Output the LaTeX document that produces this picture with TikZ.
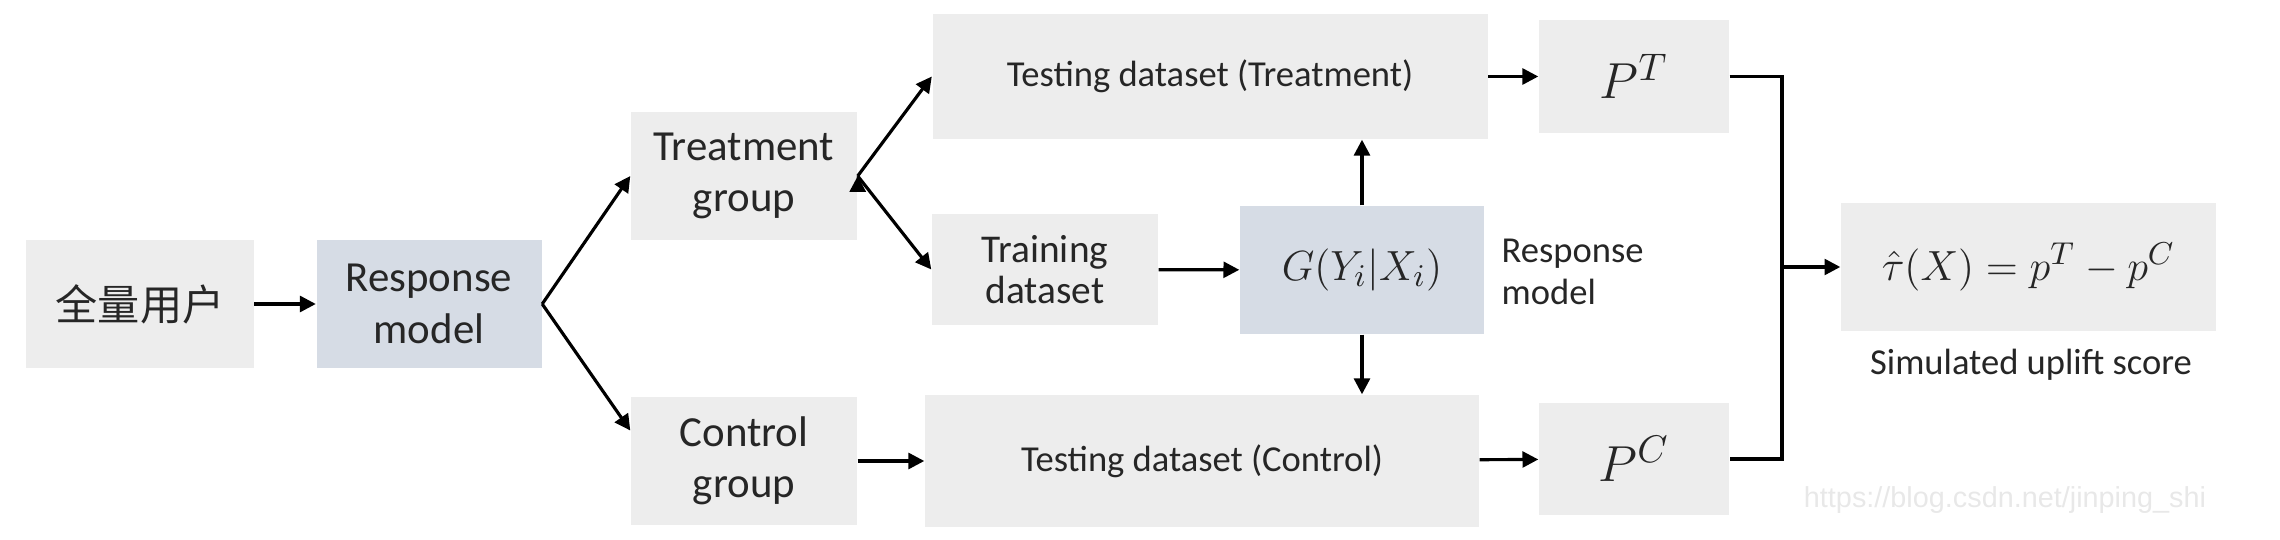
\documentclass[tikz,border=0pt]{standalone}
\usepackage{amsmath}
\usepackage{fontspec}
\setmainfont{Carlito}
\newfontfamily\cjk{Noto Sans CJK SC}
\newfontfamily\markfont{Liberation Sans}
\usetikzlibrary{arrows.meta}
\definecolor{boxgray}{HTML}{EDEDED}
\definecolor{boxblue}{HTML}{D6DCE5}
\definecolor{inkgray}{HTML}{262626}

\begin{document}
\begin{tikzpicture}[
		box/.style={fill=boxgray,inner sep=0pt,align=center,text=inkgray},
		modelbox/.style={box,fill=boxblue},
		bigtext/.style={font=\fontsize{12.2}{14.6}\selectfont},
		midtext/.style={font=\fontsize{11.2}{11.6}\selectfont},
		smalltext/.style={font=\fontsize{10.4}{11.8}\selectfont},
		mathtext/.style={font=\fontsize{12.6}{14}\selectfont},
		ptext/.style={font=\fontsize{15}{16}\selectfont},
	]
		\useasboundingbox (0,0) rectangle (22.8,5.4);
		%
		\node[box,font=\cjk\fontsize{12}{14}\selectfont,minimum width=2.27cm,minimum height=1.28cm] (U) at (1.40,2.36) {全量用户};
		\node[modelbox,bigtext,minimum width=2.25cm,minimum height=1.28cm] (RM) at (4.29,2.36) {Response\\model};
		\node[box,bigtext,minimum width=2.26cm,minimum height=1.28cm] (TG) at (7.44,3.64) {Treatment\\group};
		\node[box,bigtext,minimum width=2.26cm,minimum height=1.28cm] (CG) at (7.44,0.79) {Control\\group};
		\node[box,smalltext,minimum width=5.55cm,minimum height=1.25cm] (TT) at (12.10,4.635) {Testing dataset (Treatment)};
		\node[box,midtext,minimum width=2.26cm,minimum height=1.11cm] (TR) at (10.45,2.705) {Training\\dataset};
		\node[modelbox,font=\fontsize{12.4}{13}\selectfont,minimum width=2.44cm,minimum height=1.28cm] (G) at (13.62,2.70) {$G(Y_i|X_i)$};
		\node[box,smalltext,minimum width=5.54cm,minimum height=1.32cm] (TC) at (12.02,0.79) {Testing dataset (Control)};
		\node[smalltext,text=inkgray,align=left,anchor=west,inner sep=0pt] (GL) at (15.01,2.68) {Response\\model};
		\node[box,ptext,minimum width=1.90cm,minimum height=1.13cm] (PT) at (16.34,4.635) {$P^T$};
		\node[box,ptext,minimum width=1.90cm,minimum height=1.12cm] (PC) at (16.34,0.81) {$P^C$};
		\node[box,mathtext,minimum width=3.75cm,minimum height=1.28cm] (S) at (20.285,2.73) {$\hat{\tau}(X)=p^T-p^C$};
		\node[smalltext,text=inkgray,inner sep=0pt] (SL) at (20.31,1.75) {Simulated uplift score};
		\node[font=\markfont\fontsize{8.2}{9}\selectfont,text=black!9,inner sep=0pt] (W) at (20.05,0.40) {https://blog.csdn.net/jinping\_shi};
		\coordinate (J) at (17.82,2.73);
		%
		\path[-{Triangle[length=4.5pt,width=4.5pt]},line width=0.9pt,draw=black]
		% horizontal arrows
		(U) edge (RM)
		(TR) edge (G)
		(CG) edge (TC)
		(TT) edge (PT)
		(TC) edge (PC)
		(J) edge (S)
		% fork arrows
		(RM.east) edge (TG.west)
		(RM.east) edge (CG.165)
		(TG.east) edge (TT.west)
		(TG.east) edge (TR.west)
		% vertical arrows
		(G) edge (G.north |- TT.south)
		(G) edge (G.south |- TC.north);
		%
		\draw[line width=0.9pt] (PT.east) -- (PT.east -| J) -- (PC.east -| J) -- (PC.east);
	\end{tikzpicture}
\end{document}
